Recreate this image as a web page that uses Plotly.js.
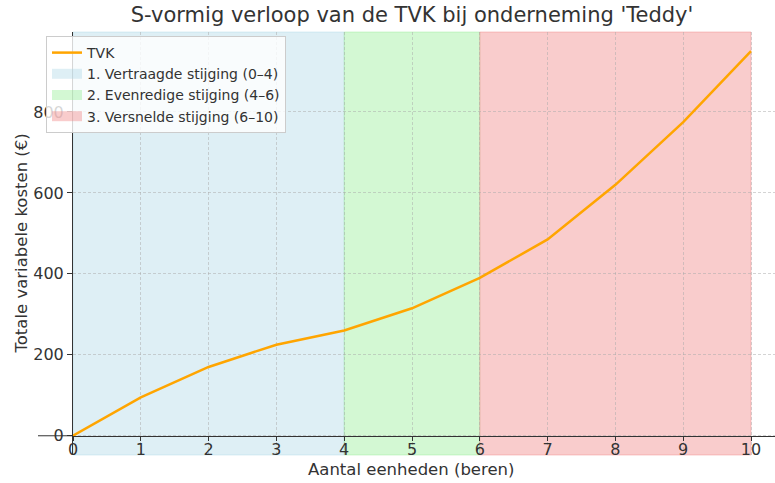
<!DOCTYPE html>
<html>
<head>
<meta charset="utf-8">
<script src="https://cdn.plot.ly/plotly-3.0.1.min.js"></script>
<style>html,body{margin:0;padding:0;background:#fff;}#chart{width:775px;height:483px;}</style>
</head>
<body>
<div id="chart"></div>
<script>
// Data
const units = [0, 1, 2, 3, 4, 5, 6, 7, 8, 9, 10];
const tvk = [0, 95, 170, 225, 260, 315, 390, 485, 620, 775, 950];
const phaseLabels = ['1. Vertraagde stijging (0–4)', '2. Evenredige stijging (4–6)', '3. Versnelde stijging (6–10)'];
const phaseStart = [0, 4, 6];
const phaseEnd = [4, 6, 10];
const yTicks = [0, 200, 400, 600, 800];
const xTicks = [0, 1, 2, 3, 4, 5, 6, 7, 8, 9, 10];

// Styles
const phaseColors = ['rgba(173,216,230,0.4)', 'rgba(144,238,144,0.4)', 'rgba(240,128,128,0.4)'];
const FONT = 'DejaVu Sans, Verdana, sans-serif';
const TXT = '#333333';
const yRange = [-47.5, 997.5];
const xZeroFrac = (0 - yRange[0]) / (yRange[1] - yRange[0]);
const PW = 702, PH = 423, PL = 73, PT = 32;

const shapes = phaseLabels.map((lab, i) => ({
  type: 'rect', xref: 'x', yref: 'paper',
  x0: phaseStart[i], x1: phaseEnd[i], y0: 0, y1: 1,
  fillcolor: phaseColors[i],
  line: {color: phaseColors[i], width: 1},
  layer: 'below'
}));
// extension of the bottom spine to the left of the y axis
shapes.push({
  type: 'line', xref: 'paper', yref: 'paper',
  x0: -35 / PW, x1: 0, y0: xZeroFrac, y1: xZeroFrac,
  line: {color: TXT, width: 1}, layer: 'above'
});

const traces = [{
  x: units, y: tvk, type: 'scatter', mode: 'lines', name: 'TVK',
  line: {color: '#ffa500', width: 2.5}
}];
// legend entries for the shaded phases (the shading itself is drawn by the shapes)
phaseLabels.forEach((lab, i) => {
  traces.push({
    x: [null], y: [null], type: 'scatter', mode: 'lines', name: lab,
    line: {color: phaseColors[i], width: 10}, hoverinfo: 'skip'
  });
});

const layout = {
  width: 775, height: 483,
  margin: {l: PL, r: 0, t: PT, b: 28, autoexpand: false},
  paper_bgcolor: '#ffffff', plot_bgcolor: 'rgba(0,0,0,0)',
  font: {family: FONT, color: TXT, size: 16},
  title: {
    text: "S-vormig verloop van de TVK bij onderneming 'Teddy'",
    xref: 'container', x: 412 / 775, xanchor: 'center',
    yref: 'container', y: 1 - 15 / 483, yanchor: 'middle',
    font: {family: FONT, size: 21, color: TXT}
  },
  xaxis: {
    range: [0, 10 + 24 / 67.8],
    tickvals: xTicks, ticktext: xTicks.map(String),
    anchor: 'free', position: xZeroFrac,
    showline: true, linecolor: TXT, linewidth: 1,
    ticks: 'outside', ticklen: 4, tickcolor: TXT, tickwidth: 1,
    ticklabelstandoff: -5,
    tickfont: {family: FONT, size: 16, color: TXT},
    showgrid: true, gridcolor: 'rgba(170,170,170,0.5)', griddash: '3px,2px', gridwidth: 1,
    zeroline: false, fixedrange: true, automargin: false
  },
  yaxis: {
    range: yRange,
    tickvals: yTicks, ticktext: yTicks.map(String),
    showline: true, linecolor: TXT, linewidth: 1,
    ticks: 'outside', ticklen: 5, tickcolor: TXT, tickwidth: 1,
    tickfont: {family: FONT, size: 16, color: TXT},
    showgrid: true, gridcolor: 'rgba(170,170,170,0.5)', griddash: '3px,2px', gridwidth: 1,
    zeroline: false, fixedrange: true, automargin: false
  },
  annotations: [
    {text: 'Aantal eenheden (beren)', xref: 'paper', yref: 'paper',
     x: (411 - PL) / PW, y: (PT + PH - 469) / PH, xanchor: 'center', yanchor: 'middle',
     showarrow: false, font: {family: FONT, size: 16.5, color: TXT}},
    {text: 'Totale variabele kosten (€)', xref: 'paper', yref: 'paper',
     x: (21 - PL) / PW, y: 0.5, xanchor: 'center', yanchor: 'middle', textangle: -90,
     showarrow: false, font: {family: FONT, size: 16.5, color: TXT}}
  ],
  shapes: shapes,
  showlegend: true,
  legend: {
    xref: 'paper', yref: 'paper',
    x: (46 - PL) / PW, y: (PT + PH - 36) / PH, xanchor: 'left', yanchor: 'top',
    bgcolor: 'rgba(255,255,255,0.8)', bordercolor: '#cccccc', borderwidth: 1,
    font: {family: FONT, size: 14, color: TXT},
    tracegroupgap: 0, itemwidth: 30, traceorder: 'normal'
  }
};

Plotly.newPlot('chart', traces, layout, {staticPlot: true, displayModeBar: false});
</script>
</body>
</html>
